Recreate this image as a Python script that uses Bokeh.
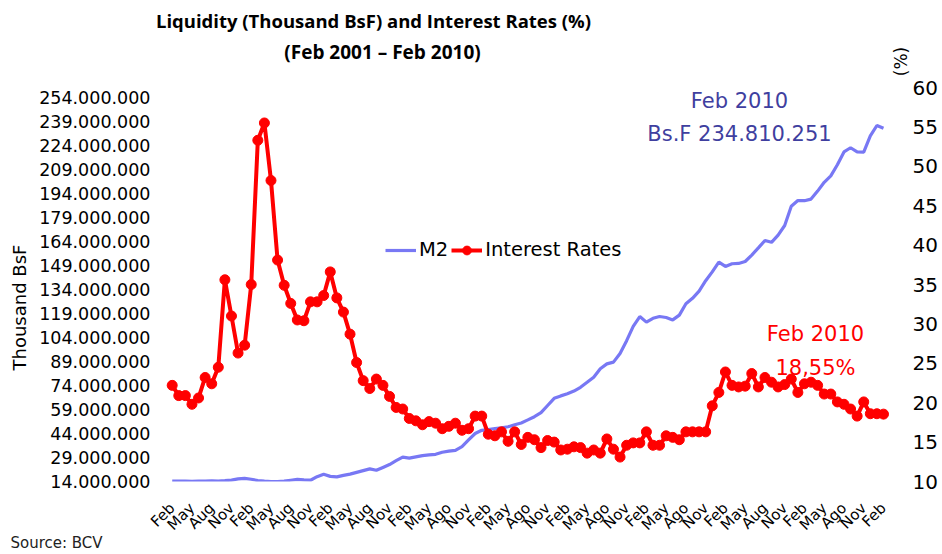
import math
from bokeh.plotting import figure
from bokeh.models import (Range1d, LinearAxis, FixedTicker, Label, Legend, LegendItem, Title)
from bokeh.embed import file_html
from bokeh.resources import INLINE

# ---------------- data ----------------
tick_labels = ["Feb", "May", "Aug", "Nov", "Feb", "May", "Aug", "Nov",
               "Feb", "May", "Aug", "Nov", "Feb", "May", "Ago", "Nov",
               "Feb", "May", "Ago", "Nov", "Feb", "May", "Ago", "Nov",
               "Feb", "May", "Ago", "Nov", "Feb", "May", "Aug", "Nov",
               "Feb", "May", "Ago", "Nov", "Feb"]

# M2, thousand BsF (in millions of thousands), monthly Feb 2001 - Feb 2010
m2_millions = [14.3, 14.2, 14.3, 14.1, 14.2, 14.3, 14.4, 14.2, 14.5, 14.9,
               15.6, 16.0, 15.4, 14.6, 14.2, 14.0, 14.0, 14.2, 14.8, 15.3,
               15.0, 14.8, 17.0, 18.5, 17.2, 16.9, 17.8, 18.6, 19.7, 20.8,
               21.9, 21.0, 22.8, 24.6, 27.0, 29.2, 28.6, 29.4, 30.2, 30.6,
               31.0, 32.3, 33.0, 33.5, 35.8, 40.0, 44.0, 46.0, 46.4, 47.0,
               47.5, 48.2, 49.5, 50.6, 52.5, 54.5, 57.0, 61.5, 66.0, 67.5,
               68.8, 70.5, 72.9, 76.0, 79.2, 84.5, 87.5, 88.6, 94.0, 102.0,
               111.0, 117.1, 113.6, 116.0, 117.1, 116.5, 115.0, 118.0, 125.1, 128.5,
               133.0, 139.5, 145.0, 151.1, 148.4, 150.1, 150.3, 151.5, 155.5, 160.0,
               164.6, 163.5, 168.0, 174.0, 186.0, 189.6, 189.5, 190.5, 195.5, 201.0,
               205.0, 212.0, 220.0, 222.6, 220.0, 219.8, 230.0, 236.5, 234.810251]

# Interest rates, %
rates = [22.2, 20.9, 20.9, 19.8, 20.6, 23.2, 22.4, 24.5, 35.6, 31.0,
         26.3, 27.3, 35.0, 53.3, 55.5, 48.2, 38.1, 34.9, 32.6, 30.5,
         30.4, 32.8, 32.8, 33.6, 36.6, 33.3, 31.5, 28.7, 25.1, 22.8,
         21.8, 23.0, 22.2, 20.8, 19.4, 19.2, 18.0, 17.7, 17.2, 17.6,
         17.4, 16.7, 17.0, 17.4, 16.5, 16.7, 18.3, 18.3, 16.0, 15.8,
         16.3, 15.1, 16.3, 14.7, 15.6, 15.3, 14.3, 15.2, 15.0, 14.0,
         14.1, 14.4, 14.3, 13.6, 14.0, 13.6, 15.4, 14.1, 13.1, 14.6,
         14.9, 14.9, 16.3, 14.6, 14.6, 15.8, 15.6, 15.3, 16.3, 16.3,
         16.3, 16.3, 19.6, 21.3, 23.9, 22.2, 22.0, 22.1, 23.7, 22.0,
         23.2, 22.6, 22.0, 22.3, 23.0, 21.3, 22.4, 22.6, 22.2, 21.1,
         21.1, 20.1, 19.8, 19.2, 18.3, 20.1, 18.6, 18.6, 18.55]

left_ticks = [14000000 + 15000000 * k for k in range(17)]
right_ticks = [10, 15, 20, 25, 30, 35, 40, 45, 50, 55, 60]

months = list(range(len(rates)))
m2 = [v * 1e6 for v in m2_millions]

FONT = "DejaVu Sans"
TFONT = "Open Sans"

W, H = 942, 554
FL, FR, FT, FB = 152, 910, 0, 481      # frame edges (page px)
X0, XPX = 171.7, 6.586                 # page x of first month, px per month
Y10, YPX = 481.0, 7.88                 # page y of 10 %, px per 1 %
MPX = YPX * 50 / 246.25                # px per million (left axis)

x_start = -(X0 - FL) / XPX
x_end = (FR - X0) / XPX
y_top = 10 + (Y10 - FT) / YPX
m_top = 14e6 + (Y10 - FT) / MPX * 1e6

p = figure(width=W, height=H, output_backend="svg", toolbar_location=None,
           x_range=Range1d(x_start, x_end), y_range=Range1d(10, y_top),
           min_border_left=FL, min_border_right=W - FR, min_border_top=FT, min_border_bottom=H - FB,
           background_fill_color="white", border_fill_color="white", outline_line_color=None)
p.xgrid.visible = False
p.ygrid.visible = False
p.yaxis.visible = False

p.extra_y_ranges = {"m2": Range1d(14e6, m_top)}

def clean(ax):
    ax.axis_line_color = None
    ax.major_tick_line_color = None
    ax.minor_tick_line_color = None
    ax.major_tick_out = 0
    ax.major_tick_in = 0
    ax.minor_tick_out = 0
    ax.minor_tick_in = 0
    ax.major_label_text_font = FONT
    ax.major_label_text_color = "black"

# x axis
xax = p.xaxis[0]
clean(xax)
xax.ticker = FixedTicker(ticks=[3 * k for k in range(len(tick_labels))])
xax.major_label_overrides = {3 * k: lab for k, lab in enumerate(tick_labels)}
xax.major_label_orientation = math.pi / 4
xax.major_label_text_font_size = "15px"
xax.major_label_standoff = 24

# left axis (M2)
lax = LinearAxis(y_range_name="m2", ticker=FixedTicker(ticks=left_ticks))
clean(lax)
lax.major_label_overrides = {t: f"{t:,}".replace(",", ".") for t in left_ticks}
lax.major_label_text_font_size = "17.5px"
lax.major_label_standoff = FL - 150
p.add_layout(lax, "left")

# right axis (%)
rax = LinearAxis(ticker=FixedTicker(ticks=right_ticks))
clean(rax)
rax.major_label_text_font_size = "20px"
rax.major_label_standoff = 912 - FR
p.add_layout(rax, "right")

# series
blue = p.line(months, m2, y_range_name="m2", line_color="#7878F4", line_width=3.2)
red_l = p.line(months, rates, line_color="#FF0000", line_width=4)
red_s = p.scatter(months, rates, size=10, fill_color="#FF0000", line_color="#FF0000")

legend = Legend(items=[LegendItem(label="M2", renderers=[blue]),
                       LegendItem(label="Interest Rates", renderers=[red_l, red_s])],
                orientation="horizontal", location=(385 - FL, 220),
                border_line_color=None, background_fill_alpha=0,
                label_text_font=FONT, label_text_font_size="19.5px", label_text_color="black",
                glyph_width=31, glyph_height=22, label_standoff=3, spacing=3,
                padding=0, margin=0)
p.add_layout(legend, "center")

# left axis title
p.add_layout(Title(text="Thousand  BsF", align="left", offset=FB - 370,
                   text_font=FONT, text_font_size="18px", text_font_style="normal",
                   text_color="black", vertical_align="middle", standoff=12), "left")

# source note below the x axis
p.add_layout(Title(text="Source: BCV", align="left", offset=10 - FL,
                   text_font=FONT, text_font_size="15px", text_font_style="normal",
                   text_color="#222222", vertical_align="top", standoff=-19), "below")

# texts placed by page pixel -> data
def dx(xp):
    return (xp - X0) / XPX

def dy(yp):
    return 10 + (Y10 - yp) / YPX

def add_text(txt, xp, yp, size, color="black", font=FONT, style="normal", angle=0.0):
    p.add_layout(Label(x=dx(xp), y=dy(yp), text=txt, text_font=font, text_font_size=size,
                       text_color=color, text_align="center", text_baseline="middle",
                       text_font_style=style, angle=angle))

add_text("Liquidity (Thousand BsF) and Interest Rates (%)", 373, 20, "18.5px",
         font=TFONT, style="bold")
add_text("(Feb 2001 \u2013 Feb 2010)", 382, 51, "19px", font=TFONT, style="bold")
add_text("(%)", 900, 61, "17px", angle=math.pi / 2)

add_text("Feb 2010", 739, 100, "21px", "#3F3F9F")
add_text("Bs.F 234.810.251", 739, 133, "21px", "#3F3F9F")
add_text("Feb 2010", 815, 333, "21px", "#FF0000")
add_text("18,55%", 815, 367, "21px", "#FF0000")

open("out.html", "w").write(file_html(p, INLINE))
